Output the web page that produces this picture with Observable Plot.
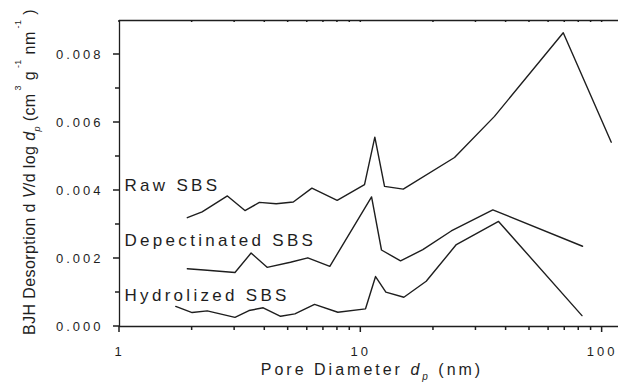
<!DOCTYPE html>
<html><head><meta charset="utf-8">
<script src="https://cdn.jsdelivr.net/npm/d3@7"></script>
<script src="https://cdn.jsdelivr.net/npm/@observablehq/plot@0.6"></script>
<style>
html,body{margin:0;padding:0;background:#fff;}
#chart svg{display:block;}
g[aria-label$="tick label"] text{letter-spacing:3px;}
g[aria-label="text"] text{letter-spacing:3.3px;}
</style></head><body><div id="chart"></div>
<script>
// Pore diameters (nm) and BJH desorption dV/dlog(dp) values
const rawD = [1.91, 2.20, 2.80, 3.31, 3.80, 4.46, 5.25, 6.27, 7.98, 10.36, 11.43, 12.54, 14.99, 24.45, 35.8, 69.0, 109.1];
const rawV = [0.00320, 0.00337, 0.00384, 0.00341, 0.00365, 0.00361, 0.00366, 0.00407, 0.00371, 0.00417, 0.00557, 0.00412, 0.00404, 0.00497, 0.00618, 0.00864, 0.00542];
const depD = [1.91, 2.24, 3.01, 3.51, 4.09, 5.11, 6.03, 7.44, 11.08, 12.18, 14.61, 18.07, 23.70, 35.24, 82.96];
const depV = [0.00170, 0.00166, 0.00159, 0.00216, 0.00174, 0.00189, 0.00202, 0.00177, 0.00381, 0.00225, 0.00193, 0.00226, 0.00281, 0.00343, 0.00236];
const hydD = [1.71, 2.00, 2.31, 3.01, 3.44, 3.94, 4.65, 5.33, 6.43, 8.03, 10.46, 11.51, 12.70, 15.08, 18.66, 24.88, 37.22, 82.5];
const hydV = [0.00059, 0.00041, 0.00046, 0.00027, 0.00047, 0.00055, 0.00030, 0.00037, 0.00065, 0.00042, 0.00052, 0.00147, 0.00101, 0.00086, 0.00133, 0.00241, 0.00309, 0.00032];

// Series annotation labels and their value level (data units)
const seriesNames = ["Raw SBS", "Depectinated SBS", "Hydrolized SBS"];
const seriesLabelLevel = [0.00400, 0.00238, 0.00074];

// Axis ticks
const xMajor = [1, 10, 100];
const xMinor = [2, 3, 4, 5, 6, 7, 8, 9, 20, 30, 40, 50, 60, 70, 80, 90];
const yMajor = [0, 0.002, 0.004, 0.006, 0.008];
const yMinor = [0.001, 0.003, 0.005, 0.007];
const xDomain = [1, 116.9];
const yDomain = [0, 0.009];

const toRows = (ds, vs) => ds.map((d, i) => ({d, v: vs[i]}));
const series = [toRows(rawD, rawV), toRows(depD, depV), toRows(hydD, hydV)];
const labelRows = seriesNames.map((name, i) => ({name, v: seriesLabelLevel[i]}));

const ink = "#1e1e1e";
const font = "'Liberation Sans', Arial, sans-serif";

const plot = Plot.plot({
  width: 618,
  height: 389,
  marginLeft: 119,
  marginRight: 0,
  marginTop: 20,
  marginBottom: 63,
  style: {fontFamily: font, color: ink, background: "#fff"},
  x: {type: "log", domain: xDomain},
  y: {domain: yDomain},
  marks: [
    Plot.ruleY([yDomain[0], yDomain[1]], {stroke: ink, strokeWidth: 1.3}),
    Plot.ruleX([xDomain[0]], {stroke: ink, strokeWidth: 1.3}),
    Plot.axisY(yMajor, {tickSize: 0, tickPadding: 16, tickFormat: d3.format(".3f"), fontSize: 13, label: null}),
    Plot.axisX(xMajor, {tickSize: 0, tickPadding: 20, tickFormat: d => String(d), fontSize: 13, label: null}),
    ...series.map(rows => Plot.line(rows, {x: "d", y: "v", stroke: ink, strokeWidth: 1.4})),
    Plot.text(labelRows, {x: () => xDomain[0], y: "v", text: "name", textAnchor: "start", lineAnchor: "bottom", dx: 5, fontSize: 17, fill: ink})
  ]
});
document.getElementById("chart").appendChild(plot);

const svg = d3.select(plot);
const sx = plot.scale("x"), sy = plot.scale("y");
const frameLeft = sx.apply(xDomain[0]);
const frameBottom = sy.apply(yDomain[0]);
const frameTop = sy.apply(yDomain[1]);

// tick marks positioned through Plot's own scales
const tickPath = [];
for (const v of yMajor) { const y = sy.apply(v); tickPath.push(`M${frameLeft - 6},${y}H${frameLeft}`); }
for (const v of yMinor) { const y = sy.apply(v); tickPath.push(`M${frameLeft - 4},${y}H${frameLeft}`); }
for (const v of xMajor) { const x = sx.apply(v); tickPath.push(`M${x},${frameBottom}V${frameBottom + 6}`); }
for (const v of xMinor) { const x = sx.apply(v); tickPath.push(`M${x},${frameBottom}V${frameBottom + 4}`); }
for (const v of [...xMajor, ...xMinor]) { const x = sx.apply(v); tickPath.push(`M${x},${frameTop}V${frameTop + 2}`); }
svg.append("path")
  .attr("d", tickPath.join(""))
  .attr("fill", "none")
  .attr("stroke", ink)
  .attr("stroke-width", 1.5);

// x-axis title
const xt = svg.append("text")
  .attr("x", 372).attr("y", 375)
  .attr("text-anchor", "middle")
  .attr("font-family", font).attr("font-size", 16)
  .attr("fill", ink).style("letter-spacing", "3px");
xt.append("tspan").text("Pore Diameter ");
xt.append("tspan").attr("font-style", "italic").text("d");
xt.append("tspan").attr("font-style", "italic").attr("font-size", 10).attr("dy", 5).text("p");
xt.append("tspan").attr("dy", -5).text(" (nm)");

// y-axis title
const yt = svg.append("text")
  .attr("transform", "translate(35,172) rotate(-90)")
  .attr("text-anchor", "middle")
  .attr("font-family", font).attr("font-size", 16)
  .attr("fill", ink).style("letter-spacing", "0.4px");
yt.append("tspan").text("BJH Desorption d ");
yt.append("tspan").attr("font-style", "italic").text("V");
yt.append("tspan").text("/d log ");
yt.append("tspan").attr("font-style", "italic").text("d");
yt.append("tspan").attr("font-style", "italic").attr("font-size", 9).attr("dy", 5).text("p");
yt.append("tspan").attr("dy", -5).text(" (cm");
yt.append("tspan").attr("font-size", 9).attr("dy", -14).text(" 3");
yt.append("tspan").attr("dy", 14).text(" g");
yt.append("tspan").attr("font-size", 9).attr("dy", -14).text(" -1");
yt.append("tspan").attr("dy", 14).text(" nm");
yt.append("tspan").attr("font-size", 9).attr("dy", -14).text(" -1");
yt.append("tspan").attr("dy", 14).text(" )");
</script>
</body></html>
